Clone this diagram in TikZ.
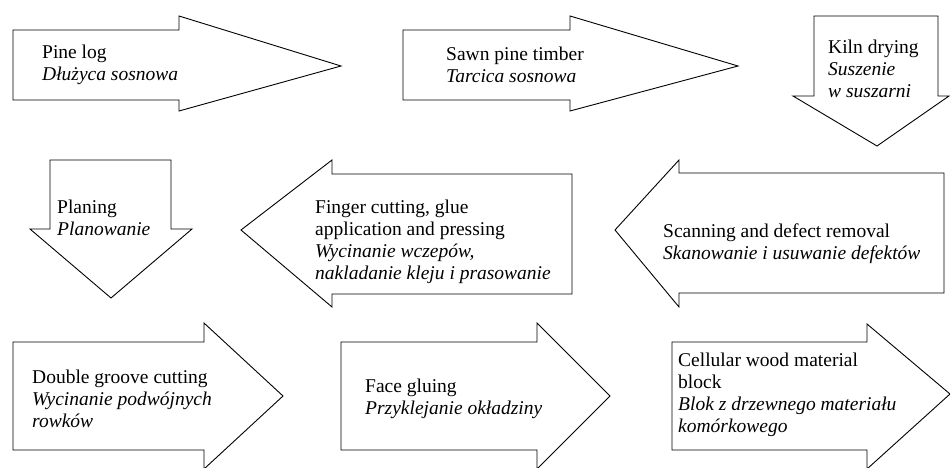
\documentclass[tikz,border=0pt]{standalone}
\usepackage{fontspec}
\setmainfont{Liberation Serif}
\begin{document}
\begin{tikzpicture}[x=1pt,y=-1pt,
  flowarrow/.style={draw=black,line width=0.9pt,fill=white,line join=miter},
  label/.style={anchor=base west,inner sep=0pt,font=\fontsize{19.5}{22}\selectfont}]
\useasboundingbox[fill=white] (0,0) rectangle (950,468);
% row 1
\draw[flowarrow] (13,30) -- (179,30) -- (179,16) -- (341,66) -- (179,111) -- (179,100) -- (13,100) -- cycle;
\draw[flowarrow] (403,30) -- (570,30) -- (570,16) -- (738,66) -- (570,111) -- (570,100) -- (403,100) -- cycle;
\draw[flowarrow] (814,16) -- (938,16) -- (938,96) -- (949,96) -- (877,146) -- (793,96) -- (814,96) -- cycle;
% row 2
\draw[flowarrow] (50,160) -- (171,160) -- (171,229) -- (192,229) -- (111,298) -- (30,229) -- (50,229) -- cycle;
\draw[flowarrow] (572,174) -- (572,294) -- (332,294) -- (332,307) -- (241,230) -- (332,160) -- (332,174) -- cycle;
\draw[flowarrow] (944,173) -- (944,293) -- (679,293) -- (679,307) -- (615,230) -- (679,160) -- (679,173) -- cycle;
% row 3
\draw[flowarrow] (13,342) -- (204,342) -- (204,323) -- (283,396) -- (204,469) -- (204,450) -- (13,450) -- cycle;
\draw[flowarrow] (341,342) -- (537,342) -- (537,323) -- (610,396) -- (537,469) -- (537,450) -- (341,450) -- cycle;
\draw[flowarrow] (672,342) -- (867,342) -- (867,324) -- (950,394) -- (867,469) -- (867,450) -- (672,450) -- cycle;
% labels
\node[label] (t1) at (42,59) {\begin{tabular}[t]{@{}l@{}}Pine log\\\textit{Dłużyca sosnowa}\end{tabular}};
\node[label] (t2) at (446,61) {\begin{tabular}[t]{@{}l@{}}Sawn pine timber\\\textit{Tarcica sosnowa}\end{tabular}};
\node[label] (t3) at (828,54) {\begin{tabular}[t]{@{}l@{}}Kiln drying\\\textit{Suszenie}\\\textit{w suszarni}\end{tabular}};
\node[label] (t4) at (57,213) {\begin{tabular}[t]{@{}l@{}}Planing\\\textit{Planowanie}\end{tabular}};
\node[label] (t5) at (315,213) {\begin{tabular}[t]{@{}l@{}}Finger cutting, glue\\application and pressing\\\textit{Wycinanie wczepów,}\\\textit{nakladanie kleju i prasowanie}\end{tabular}};
\node[label] (t6) at (663,237) {\begin{tabular}[t]{@{}l@{}}Scanning and defect removal\\\textit{Skanowanie i usuwanie defektów}\end{tabular}};
\node[label] (t7) at (32,383) {\begin{tabular}[t]{@{}l@{}}Double groove cutting\\\textit{Wycinanie podwójnych}\\\textit{rowków}\end{tabular}};
\node[label] (t8) at (365,392) {\begin{tabular}[t]{@{}l@{}}Face gluing\\\textit{Przyklejanie okładziny}\end{tabular}};
\node[label] (t9) at (678,366) {\begin{tabular}[t]{@{}l@{}}Cellular wood material\\block\\\textit{Blok z drzewnego materiału}\\\textit{komórkowego}\end{tabular}};
\end{tikzpicture}
\end{document}
